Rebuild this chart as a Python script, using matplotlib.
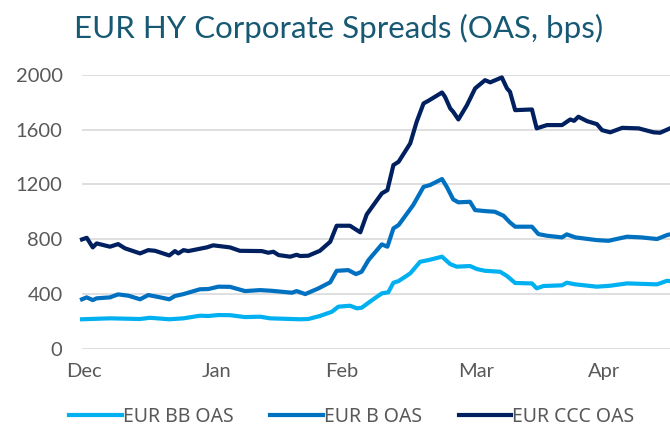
import matplotlib.pyplot as plt

# jours depuis le 1er décembre
ccc_jours = [0, 1.1, 2.5, 3.4, 6.5, 8.4, 10.0, 13.5, 15.4, 17.0, 20.3, 21.6, 22.4, 23.6, 24.7,
             29.0, 30.5, 34.4, 36.7, 41.8, 43.3, 44.5, 45.7, 48.4, 49.9, 50.7, 52.6, 55.3,
             57.7, 59.2, 62.3, 64.7, 66.2, 69.7, 71.0, 72.4, 73.6, 76.3, 77.8, 79.4, 80.5,
             83.7, 84.4, 85.6, 86.3, 87.5, 89.5, 91.4, 93.7, 94.9, 97.6, 98.8, 99.5, 100.7,
             104.6, 105.7, 108.1, 111.6, 113.5, 114.4, 115.4, 117.4, 119.7, 120.9, 122.8,
             125.6, 129.4, 132.9, 134.4, 136.7]
ccc_oas = [798, 810, 740, 769, 745, 764, 733, 696, 720, 715, 681, 713, 696, 720, 713,
           740, 755, 740, 715, 713, 701, 708, 684, 672, 686, 677, 679, 715,
           781, 898, 898, 850, 981, 1134, 1158, 1341, 1365, 1499, 1657, 1791, 1810,
           1871, 1839, 1755, 1730, 1674, 1779, 1901, 1961, 1945, 1981, 1901, 1876, 1742,
           1747, 1609, 1633, 1633, 1674, 1664, 1694, 1662, 1640, 1596, 1580,
           1613, 1609, 1580, 1577, 1609]

b_jours = [0, 1.1, 2.5, 3.4, 6.5, 8.4, 10.8, 13.5, 15.4, 17.4, 20.3, 21.6, 23.6, 27.4, 29.4,
           31.7, 34.4, 37.9, 41.4, 44.1, 48.8, 49.9, 51.9, 55.0, 57.7, 59.2, 61.9, 63.7,
           65.0, 66.6, 69.7, 71.0, 72.4, 73.6, 77.0, 79.4, 80.9, 83.7, 84.8, 86.3, 87.5,
           90.2, 91.4, 93.7, 96.0, 98.0, 99.5, 100.7, 104.6, 106.1, 108.1, 111.6, 112.7,
           114.7, 119.7, 122.4, 126.7, 130.0, 133.7, 136.0, 136.7]
b_oas = [361, 375, 355, 368, 375, 397, 387, 361, 392, 380, 361, 385, 399, 434, 436,
         453, 452, 421, 428, 423, 409, 421, 399, 441, 485, 569, 574, 545,
         562, 647, 762, 745, 879, 903, 1049, 1182, 1195, 1239, 1182, 1090, 1069,
         1073, 1012, 1005, 1000, 971, 922, 891, 891, 837, 825, 813, 835,
         813, 793, 788, 818, 813, 801, 830, 835]

bb_jours = [0, 6.5, 13.5, 15.8, 20.3, 23.6, 27.4, 29.4, 31.7, 34.4, 37.9, 41.4, 43.7, 50.7,
            52.6, 55.3, 58.1, 59.6, 62.3, 63.9, 65.0, 67.0, 69.7, 71.2, 72.4, 73.6, 76.3,
            78.6, 80.5, 83.7, 85.6, 87.1, 90.2, 91.8, 93.7, 97.2, 98.8, 100.7, 104.6,
            105.7, 107.3, 111.6, 112.7, 114.7, 119.7, 122.8, 126.7, 133.7, 136.0, 136.7]
bb_oas = [215, 222, 217, 226, 215, 222, 241, 239, 246, 245, 231, 234, 222, 215,
          217, 239, 270, 307, 314, 295, 299, 345, 404, 412, 482, 494, 550,
          635, 647, 672, 618, 599, 604, 582, 569, 562, 531, 480, 477,
          441, 458, 463, 482, 470, 453, 460, 477, 470, 496, 494]

mois = ["Dec", "Jan", "Feb", "Mar", "Apr"]
mois_pos = [0.5, 31.4, 60.5, 91.6, 121.4]
graduations_y = [0, 400, 800, 1200, 1600, 2000]

plt.rcParams['font.family'] = ['Lato', 'DejaVu Sans']

fig = plt.figure(figsize=(6.7, 4.3), dpi=100)
ax = fig.add_axes([0.1224, 0.189, 0.8776, 0.637])

ax.plot(bb_jours, bb_oas, color='#00B0F0', lw=3, label='EUR BB OAS', clip_on=False)
ax.plot(b_jours, b_oas, color='#0070C0', lw=3, label='EUR B OAS', clip_on=False)
ax.plot(ccc_jours, ccc_oas, color='#002060', lw=3, label='EUR CCC OAS', clip_on=False)

ax.set_xlim(0, 136.7)
ax.set_ylim(0, 2000)
ax.set_yticks(graduations_y)
ax.set_xticks(mois_pos)
ax.set_xticklabels(mois)
ax.tick_params(axis='y', length=0, pad=14, labelsize=14.5, labelcolor='#595959')
ax.tick_params(axis='x', length=0, pad=10, labelsize=14.5, labelcolor='#595959')
ax.grid(True, axis='y', color='#D9D9D9', lw=1.2)
ax.set_axisbelow(True)
for s in ax.spines.values():
    s.set_visible(False)

fig.text(0.506, 0.935, "EUR HY Corporate Spreads (OAS, bps)", ha='center', va='center',
         fontsize=22.5, color='#175873')

fig.legend(loc='center', bbox_to_anchor=(0.525, 0.03), ncol=3, frameon=False,
           prop={'family': ['Noto Sans', 'DejaVu Sans'], 'size': 14},
           handlelength=2.7, handletextpad=0.05, columnspacing=1.9,
           borderpad=0.2, labelcolor='#595959')

fig.savefig('out.png', dpi=100)
